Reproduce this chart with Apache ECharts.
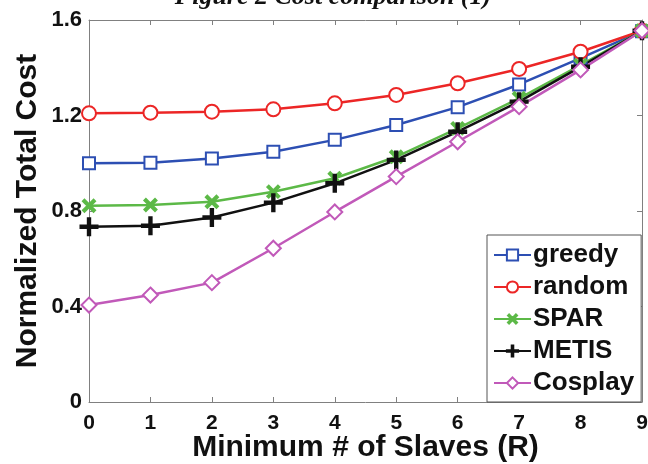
<!DOCTYPE html>
<html>
<head>
<meta charset="utf-8">
<script src="https://cdn.jsdelivr.net/npm/echarts@6/dist/echarts.min.js"></script>
<style>
html,body{margin:0;padding:0;background:#fff;}
#c{width:648px;height:464px;}
</style>
</head>
<body>
<div id="c"></div>
<script>
var xValues = [0, 1, 2, 3, 4, 5, 6, 7, 8, 9];
var greedy  = [1.00, 1.002, 1.02, 1.048, 1.098, 1.16, 1.235, 1.33, 1.44, 1.553];
var random  = [1.209, 1.212, 1.216, 1.226, 1.251, 1.286, 1.335, 1.395, 1.467, 1.555];
var spar    = [0.822, 0.825, 0.839, 0.881, 0.937, 1.027, 1.146, 1.272, 1.411, 1.555];
var metis   = [0.734, 0.738, 0.773, 0.835, 0.916, 1.014, 1.132, 1.258, 1.404, 1.555];
var cosplay = [0.406, 0.448, 0.500, 0.644, 0.796, 0.944, 1.090, 1.237, 1.391, 1.555];
var seriesNames = ['greedy', 'random', 'SPAR', 'METIS', 'Cosplay'];
var yTicks = [0, 0.4, 0.8, 1.2, 1.6];

var chart = echarts.init(document.getElementById('c'));
function pairs(arr){ return xValues.map(function(x,i){ return [x, arr[i]]; }); }
var plusPath = 'path://M4.3,0H5.7V4.3H10V5.7H5.7V10H4.3V5.7H0V4.3H4.3Z';
var FONT = '"Liberation Sans", Arial, sans-serif';
var axisGray = '#808080';

function mk(name, data, color, symbol, size, rotate){
  return {
    name: name, type: 'line', data: pairs(data),
    xAxisIndex: 0, yAxisIndex: 0,
    symbol: symbol, symbolSize: size, symbolRotate: rotate || 0,
    showAllSymbol: true,
    lineStyle: {color: color, width: 2.5},
    itemStyle: {color: color, borderColor: color, borderWidth: 2},
    emphasis: {disabled: true},
    animation: false
  };
}

chart.setOption({
  animation: false,
  grid: {left: 89, right: 6, top: 20, bottom: 62, containLabel: false, outerBoundsMode: 'none'},
  graphic: [{
    type: 'text', x: 333, y: -16,
    style: {text: 'Figure 2 Cost comparison (1)', align: 'center', verticalAlign: 'top',
      font: 'italic bold 26px "Liberation Serif", "Times New Roman", serif', fill: '#111'}
  }],
  legend: {
    data: seriesNames,
    orient: 'vertical',
    left: 487, top: 235,
    itemWidth: 37, itemHeight: 14, itemGap: 6,
    padding: [7, 7, 6, 6],
    backgroundColor: '#fff',
    borderColor: '#555', borderWidth: 1,
    textStyle: {fontFamily: FONT, fontWeight: 'bold', fontSize: 26, lineHeight: 26, color: '#111', padding: [0,0,0,-3]},
    selectedMode: false
  },
  xAxis: [{
    type: 'value', min: 0, max: 9, interval: 1, position: 'bottom',
    name: 'Minimum # of Slaves (R)', nameLocation: 'middle', nameGap: 31, nameMoveOverlap: false,
    nameTextStyle: {fontFamily: FONT, fontWeight: 'bold', fontSize: 30, lineHeight: 30, color: '#111'},
    axisLine: {show: true, lineStyle: {color: axisGray, width: 1}},
    axisTick: {show: true, inside: true, length: 5, lineStyle: {color: axisGray}},
    axisLabel: {fontFamily: FONT, fontWeight: 'bold', fontSize: 21, lineHeight: 21, color: '#111', margin: 11},
    splitLine: {show: false}
  }, {
    type: 'value', min: 0, max: 9, interval: 1, position: 'top',
    axisLine: {show: true, onZero: false, lineStyle: {color: axisGray, width: 1}},
    axisTick: {show: true, inside: true, length: 5, lineStyle: {color: axisGray}},
    axisLabel: {show: false}, splitLine: {show: false}
  }],
  yAxis: [{
    type: 'value', min: 0, max: 1.6, interval: 0.4, position: 'left',
    name: 'Normalized Total Cost', nameLocation: 'middle', nameGap: 46, nameMoveOverlap: false,
    nameTextStyle: {fontFamily: FONT, fontWeight: 'bold', fontSize: 30, lineHeight: 30, color: '#111'},
    axisLine: {show: true, lineStyle: {color: axisGray, width: 1}},
    axisTick: {show: true, inside: true, length: 5, lineStyle: {color: axisGray}},
    axisLabel: {fontFamily: FONT, fontWeight: 'bold', fontSize: 22, color: '#111', margin: 7,
      formatter: function(v){ return yTicks.indexOf(v) >= 0 ? String(+v.toFixed(1)) : ''; }},
    splitLine: {show: false}
  }, {
    type: 'value', min: 0, max: 1.6, interval: 0.4, position: 'right',
    axisLine: {show: true, onZero: false, lineStyle: {color: axisGray, width: 1}},
    axisTick: {show: true, inside: true, length: 5, lineStyle: {color: axisGray}},
    axisLabel: {show: false}, splitLine: {show: false}
  }],
  series: [
    mk('greedy', greedy, '#2D4FB3', 'emptyRect', 12),
    mk('random', random, '#EC2626', 'emptyCircle', 14),
    mk('SPAR', spar, '#5CB947', plusPath, 15, 45),
    mk('METIS', metis, '#111111', plusPath, 17),
    mk('Cosplay', cosplay, '#C159B9', 'emptyDiamond', 15)
  ]
});
</script>
</body>
</html>
